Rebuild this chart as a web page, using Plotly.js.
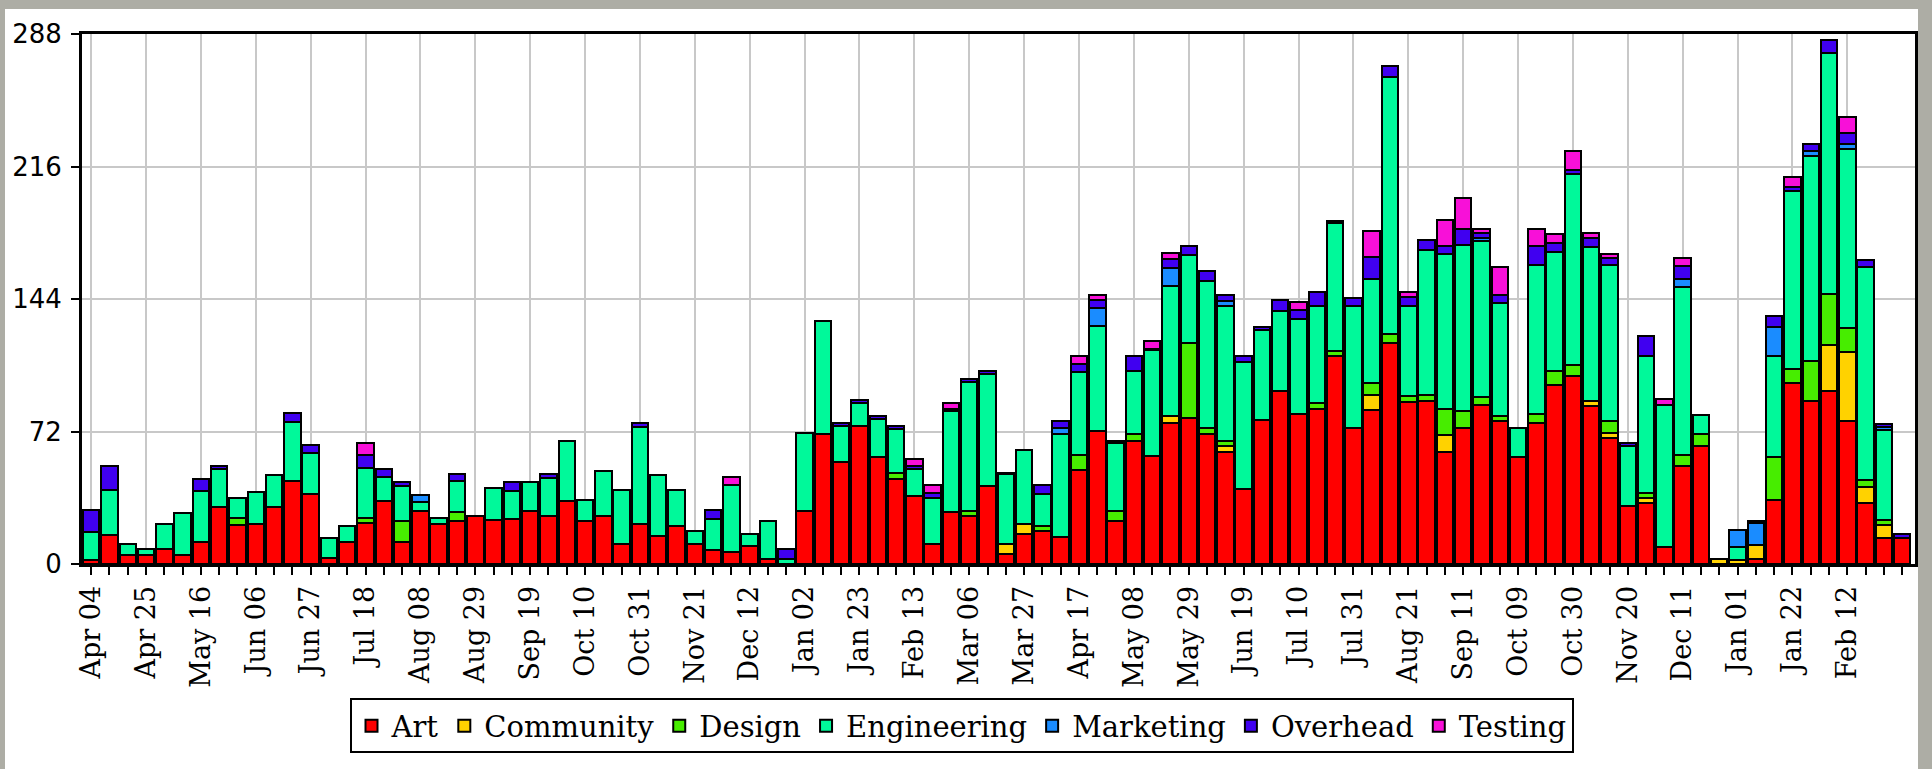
<!DOCTYPE html>
<html>
<head>
<meta charset="utf-8">
<script src="https://cdn.plot.ly/plotly-3.0.1.min.js"></script>
<style>
  html, body { margin: 0; padding: 0; background: #ADADA5; width: 1932px; height: 769px; overflow: hidden; }
  #chart { position: absolute; left: 5px; top: 9px; width: 1913px; height: 760px; background: #fff; }
</style>
</head>
<body>
<div id="chart"></div>
<script>
// Tick labels (every third week)
const tickLabels = ["Apr 04","Apr 25","May 16","Jun 06","Jun 27","Jul 18","Aug 08","Aug 29","Sep 19","Oct 10","Oct 31","Nov 21","Dec 12",
  "Jan 02","Jan 23","Feb 13","Mar 06","Mar 27","Apr 17","May 08","May 29","Jun 19","Jul 10","Jul 31","Aug 21","Sep 11","Oct 09","Oct 30",
  "Nov 20","Dec 11","Jan 01","Jan 22","Feb 12"];
const tickWeeks = [0,3,6,9,12,15,18,21,24,27,30,33,36,39,42,45,48,51,54,57,60,63,66,69,72,75,78,81,84,87,90,93,96];

const art = [2,16,5,5,8,5,12,31,21,22,31,45,38,3,12,22.3,34.5,12,29,22,
  23.4,26,24,24.3,29,26,34,23.4,26,10.7,22,15,20.7,10.7,7.8,6.7,9.6,2.5,null,28.8,
  70.6,55.5,74.8,58,46,37,10.7,28,26.3,42.6,5.6,16.3,17.8,14.7,51.2,72.4,23.4,66.6,58.8,76.5,
  79.1,70.6,61,40.5,78.2,94.1,81.4,84.5,112.8,73.8,83.6,120,87.8,88.7,61.1,73.8,86.3,77.5,58.4,76.5,
  97.4,102,86,68.4,31.4,33.4,9.3,53.3,64.2,null,null,2.5,34.6,98.1,88.8,93.8,77.9,33.3,14,14];
const community = [null,null,null,null,null,null,null,null,null,null,null,null,null,null,null,null,null,null,null,null,
  null,null,null,null,null,null,null,null,null,null,null,null,null,null,null,null,null,null,null,null,
  null,null,null,null,null,null,null,null,null,null,5,5.3,null,null,null,null,null,null,null,4,
  null,null,2.9,null,null,null,null,null,null,null,8.4,null,null,null,9.1,null,null,null,null,null,
  null,null,2.5,2.7,null,2.7,null,null,null,2.5,2.3,7.7,null,null,null,25,37.1,8.6,7.2,null];
const design = [null,null,null,null,null,null,null,null,4,null,null,null,null,null,null,2.7,null,11.6,null,null,
  5,null,null,null,null,null,null,null,null,null,null,null,null,null,null,null,null,null,null,null,
  null,null,null,null,3.6,null,null,null,2.4,null,null,null,2.7,null,8.1,null,5.3,4,null,null,
  41.2,3.1,2.9,null,null,null,null,3.1,2.9,null,6.5,5,3.4,2.9,14.1,9.1,4.7,2.9,null,4.9,
  7.6,6.1,null,6.4,null,2.5,null,6,6.4,null,null,null,23.7,7.7,21.4,27.9,13.5,3.9,2.5,null];
const engineering = [15.5,24,6,3,14,22.5,27.5,20.5,11,17,17.5,32,22.5,11,8.5,27.3,13,18.7,4.5,2.9,
  16.5,null,17.5,15.3,15.6,21,33,11.3,24.3,29.6,52.4,33.5,19.6,7.3,16.7,36,6.9,21,2.5,42.2,
  61.6,19.6,12.5,21,23.5,14.5,25,55,70.3,60.6,38.2,40.6,17.8,55.9,44.9,56.8,36.8,34.4,57.5,70.8,
  47.7,80.3,73.5,69,48.9,43.2,51.9,52.8,69.4,66.2,56.1,139.6,48.8,79.3,83.9,90.7,84.4,61.6,15.4,81.3,
  64.6,103.6,83.6,85.2,32.6,74.6,77.2,91.1,10.3,null,6.9,null,54.8,96.9,111.3,130.8,97.1,115.4,49,null];
const marketing = [null,null,null,null,null,null,null,null,null,null,null,null,null,null,null,null,null,null,3.9,null,
  null,null,null,null,null,null,null,null,null,null,null,null,null,null,null,null,null,null,null,null,
  null,null,null,null,null,null,null,null,null,null,null,null,null,3.4,null,9.8,null,null,null,9.7,
  null,null,2.7,null,null,null,null,null,null,null,null,null,null,null,null,null,2,null,null,null,
  null,null,null,null,null,null,null,4.5,null,null,9.1,11.9,15.6,null,3.1,null,2.7,null,1.5,null];
const overhead = [12,13,null,null,null,null,6.5,1.5,null,null,null,5,4,null,null,7.2,4,2.3,null,null,
  3.9,null,null,5,null,1.8,null,null,null,null,2.2,null,null,null,4.9,null,null,null,5.8,null,
  null,1.3,2,1.5,2,1.5,3,1.5,1.5,1.5,0.9,null,4.7,3.8,4.7,4.4,1.5,8.2,0.8,4.6,
  5,5.1,3.3,3.7,1.5,6.2,4.6,7.6,1.5,4.6,12.2,6.2,5,4.9,4.6,8.7,2.7,4.4,null,10,
  4.7,2.3,4.9,3.5,1.5,10.9,null,6.9,null,null,null,1,5.9,2.3,3.9,7.5,6.1,4.2,2,2.5];
const testing = [null,null,null,null,null,null,null,null,null,null,null,null,null,null,null,6,null,null,null,null,
  null,null,null,null,null,null,null,null,null,null,null,null,null,null,null,4.7,null,null,null,null,
  null,null,null,null,null,4,4.3,3,null,null,null,null,null,null,4.3,2.9,null,null,4.2,3.3,
  null,null,null,null,null,null,4.3,null,null,null,14.4,null,2.7,null,13.9,16.7,2,15.2,null,9.4,
  5.1,10.2,2.8,2.3,null,null,3.1,4.5,null,null,null,null,null,5.2,null,null,8.3,null,null,null];

const seriesNames = ["Art","Community","Design","Engineering","Marketing","Overhead","Testing"];
const seriesValues = [art, community, design, engineering, marketing, overhead, testing];
const seriesColors = ["#FF0000","#FFD200","#47ED00","#00F99A","#1A8CFF","#4000F0","#F810D8"];

const weekIndex = art.map((_, i) => i);

const traces = seriesNames.map((name, k) => ({
  type: "bar",
  name: name,
  x: weekIndex,
  y: seriesValues[k],
  marker: { color: seriesColors[k], line: { color: "#000", width: 2 } },
  hoverinfo: "skip"
}));

const layout = {
  width: 1913, height: 760,
  margin: { l: 77, r: 3, t: 25, b: 205 },
  paper_bgcolor: "#FFFFFF",
  plot_bgcolor: "#FFFFFF",
  barmode: "stack",
  bargap: 0.1,
  showlegend: true,
  legend: {
    orientation: "h",
    xref: "container", yref: "container",
    x: 0.5, xanchor: "center",
    y: 0.093, yanchor: "top",
    bgcolor: "#FFFFFF",
    bordercolor: "#000",
    borderwidth: 2,
    traceorder: "normal",
    font: { family: "DejaVu Serif", size: 29, color: "#000" }
  },
  xaxis: {
    range: [-0.5, 99.7],
    tickmode: "array",
    tickvals: tickWeeks,
    ticktext: tickLabels,
    tickangle: -90,
    ticks: "outside",
    ticklen: 8,
    tickwidth: 2,
    tickcolor: "#000",
    tickfont: { family: "DejaVu Serif", size: 27, color: "#000" },
    showgrid: true,
    gridcolor: "#C8C8C8",
    gridwidth: 2,
    showline: true,
    linecolor: "#000",
    linewidth: 3,
    mirror: true,
    zeroline: false,
    minor: { tickmode: "linear", tick0: 0, dtick: 1, ticks: "outside", ticklen: 8, tickwidth: 2, tickcolor: "#000", showgrid: false }
  },
  yaxis: {
    range: [0, 288],
    tickmode: "array",
    tickvals: [0, 72, 144, 216, 288],
    ticktext: ["0", "72", "144", "216", "288"],
    ticks: "outside",
    ticklen: 8,
    tickwidth: 2,
    tickcolor: "#000",
    ticklabelstandoff: 4,
    tickfont: { family: "DejaVu Sans", size: 26, color: "#000" },
    showgrid: true,
    gridcolor: "#C8C8C8",
    gridwidth: 2,
    showline: true,
    linecolor: "#000",
    linewidth: 3,
    mirror: true,
    zeroline: false
  }
};

Plotly.newPlot("chart", traces, layout, { staticPlot: true, displayModeBar: false });
</script>
</body>
</html>
